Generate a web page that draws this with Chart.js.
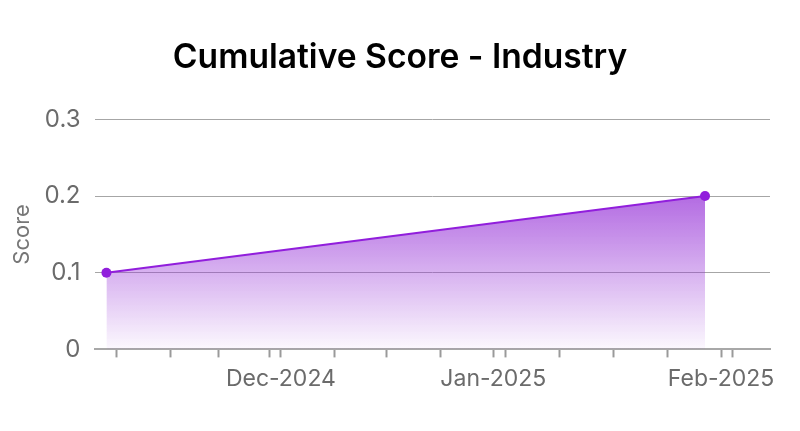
<!DOCTYPE html>
<html><head><meta charset="utf-8">
<script src="https://cdn.jsdelivr.net/npm/chart.js@4"></script>
<style>html,body{margin:0;padding:0;background:#fff;} #wrap{width:800px;height:431px;position:relative;}</style>
</head><body><div id="wrap"><canvas id="c"></canvas></div>
<script>
const chartTitle = 'Cumulative Score - Industry';
const yAxisTitle = 'Score';
// x values are day numbers relative to 2025-01-01
const pointDays = [-53, 29];
const scores = [0.1, 0.2];
const xTickDays = [-51.6, -44.2, -37.7, -30.7, -29.1, -21.8, -14.6, -7.3, 0, 1.6, 9.0, 16.4, 23.8, 31.2, 32.7];
const xTickLabels = ['', '', '', '', 'Dec-2024', '', '', '', 'Jan-2025', '', '', '', '', 'Feb-2025', ''];
const yTickValues = [0, 0.1, 0.2, 0.3];
const xRange = [-54.5, 37.9];

const lineColor = 'rgb(145, 30, 220)';
const FONT = 'Inter, "Noto Sans", sans-serif';

new Chart(document.getElementById('c'), {
  type: 'line',
  data: {
    datasets: [{
      data: pointDays.map((d, i) => ({ x: d, y: scores[i] })),
      borderColor: lineColor,
      borderWidth: 2,
      pointBackgroundColor: lineColor,
      pointBorderColor: lineColor,
      pointRadius: 5,
      pointBorderWidth: 0,
      tension: 0,
      fill: 'origin',
      backgroundColor: (ctx) => {
        const chart = ctx.chart;
        const area = chart.chartArea;
        if (!area) return 'rgba(145,30,220,0.3)';
        const yTop = chart.scales.y.getPixelForValue(Math.max(...scores));
        const g = chart.ctx.createLinearGradient(0, yTop, 0, area.bottom);
        g.addColorStop(0, 'rgba(150, 50, 215, 0.72)');
        g.addColorStop(1, 'rgba(150, 50, 215, 0.03)');
        return g;
      }
    }]
  },
  options: {
    responsive: true,
    maintainAspectRatio: false,
    animation: false,
    layout: { padding: { left: 9, right: 9, top: 0, bottom: 30 } },
    plugins: {
      legend: { display: false },
      tooltip: { enabled: false },
      title: {
        display: true,
        text: chartTitle,
        color: '#000',
        font: { family: FONT, size: 33.6, weight: '600' },
        padding: { top: 38, bottom: 41 }
      }
    },
    scales: {
      x: {
        type: 'linear',
        min: xRange[0],
        max: xRange[1],
        afterBuildTicks: (scale) => { scale.ticks = xTickDays.map(v => ({ value: v })); },
        afterFit: (scale) => { scale.paddingRight = Math.max(scale.paddingRight, 30); },
        ticks: {
          autoSkip: false,
          maxRotation: 0,
          padding: 8,
          color: '#6b6b6b',
          font: { family: FONT, size: 23 },
          callback: (v, i) => xTickLabels[i]
        },
        grid: {
          drawOnChartArea: false,
          drawTicks: true,
          tickLength: 8,
          tickWidth: 2,
          color: '#9a9a9a'
        },
        border: { display: true, color: '#a8a8a8', width: 2 }
      },
      y: {
        min: 0,
        max: 0.3,
        afterBuildTicks: (scale) => { scale.ticks = yTickValues.map(v => ({ value: v })); },
        ticks: {
          padding: 3,
          color: '#6b6b6b',
          font: { family: FONT, size: 24 },
          callback: (v) => String(v)
        },
        grid: { drawTicks: true, tickLength: 12, tickColor: 'rgba(0,0,0,0)', color: '#a6a6a6', lineWidth: 1 },
        border: { display: false },
        title: {
          display: true,
          text: yAxisTitle,
          color: '#777',
          font: { family: FONT, size: 22 },
          padding: { top: 0, bottom: 6 }
        }
      }
    }
  }
});
</script>
</body></html>
